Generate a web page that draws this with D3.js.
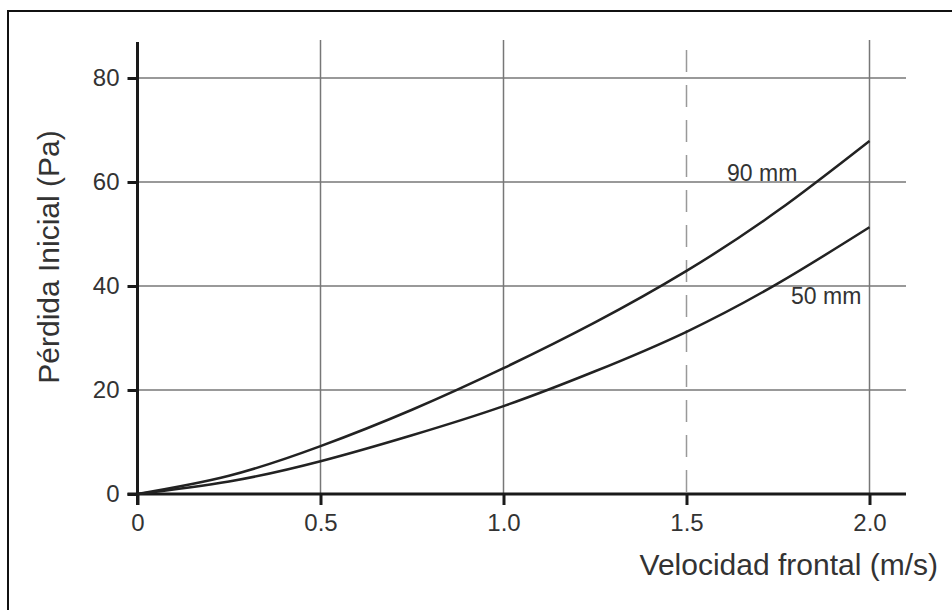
<!DOCTYPE html>
<html>
<head>
<meta charset="utf-8">
<script src="https://cdn.jsdelivr.net/npm/d3@7"></script>
<style>
  html, body { margin: 0; padding: 0; background: #fff; }
  svg { display: block; font-family: "Liberation Sans", Arial, sans-serif; }
</style>
</head>
<body>
<div id="chart"></div>
<script>
// velocidad frontal (m/s)
const velocidad = [0, 0.25, 0.5, 0.75, 1.0, 1.25, 1.5, 1.75, 2.0];
// pérdida inicial (Pa) por espesor
const perdida90 = [0, 3.5, 9.2, 16.2, 24.2, 33.0, 42.9, 54.5, 67.9];
const perdida50 = [0, 2.4, 6.3, 11.3, 16.9, 23.6, 31.2, 40.5, 51.3];
const xTicks = [0, 0.5, 1.0, 1.5, 2.0];
const xTickLabels = ["0", "0.5", "1.0", "1.5", "2.0"];
const yTicks = [0, 20, 40, 60, 80];
const series = [
  { name: "90 mm", values: perdida90 },
  { name: "50 mm", values: perdida50 }
];

const width = 952, height = 610;
const svg = d3.select("#chart").append("svg")
  .attr("width", width)
  .attr("height", height);

// marco
svg.append("rect")
  .attr("x", 8).attr("y", 11)
  .attr("width", 980).attr("height", 700)
  .attr("fill", "none")
  .attr("stroke", "#111")
  .attr("stroke-width", 2);

const x = d3.scaleLinear().domain([0, 2]).range([137.5, 869.5]);
const y = d3.scaleLinear().domain([0, 80]).range([494, 78]);
const xEnd = 906, yTop = 40;

// rejilla horizontal
svg.append("g").selectAll("line")
  .data(yTicks.filter(d => d > 0))
  .join("line")
  .attr("x1", x(0)).attr("x2", xEnd)
  .attr("y1", d => y(d)).attr("y2", d => y(d))
  .attr("stroke", "#777").attr("stroke-width", 1.5);

// rejilla vertical
svg.append("g").selectAll("line")
  .data(xTicks.filter(d => d > 0))
  .join("line")
  .attr("x1", d => x(d)).attr("x2", d => x(d))
  .attr("y1", d => d === 1.5 ? 50 : yTop).attr("y2", y(0))
  .attr("stroke", d => d === 1.5 ? "#999" : "#777")
  .attr("stroke-width", 1.5)
  .attr("stroke-dasharray", d => d === 1.5 ? "22,13" : null);

// ejes
const xAxis = d3.axisBottom(x)
  .tickValues(xTicks)
  .tickFormat((d, i) => xTickLabels[i])
  .tickSize(11)
  .tickPadding(9);
const gx = svg.append("g")
  .attr("transform", `translate(0,${y(0)})`)
  .call(xAxis);
gx.select(".domain").remove();
gx.append("line")
  .attr("x1", x(0) - 10).attr("x2", xEnd)
  .attr("stroke", "#1a1a1a").attr("stroke-width", 3);

const yAxis = d3.axisLeft(y)
  .tickValues(yTicks)
  .tickSize(10)
  .tickPadding(8);
const gy = svg.append("g")
  .attr("transform", `translate(${x(0)},0)`)
  .call(yAxis);
gy.select(".domain").remove();
gy.append("line")
  .attr("y1", 42).attr("y2", y(0) + 11)
  .attr("stroke", "#1a1a1a").attr("stroke-width", 3);

svg.selectAll(".tick line")
  .attr("stroke", "#1a1a1a").attr("stroke-width", 3);
svg.selectAll(".tick text")
  .attr("fill", "#333")
  .style("font-size", "24px")
  .style("font-family", "'Liberation Sans', Arial, sans-serif");

// curvas
const line = d3.line()
  .x((d, i) => x(velocidad[i]))
  .y(d => y(d))
  .curve(d3.curveNatural);

svg.append("g").selectAll("path")
  .data(series)
  .join("path")
  .attr("d", d => line(d.values))
  .attr("fill", "none")
  .attr("stroke", "#222")
  .attr("stroke-width", 2.5);

// etiquetas de las curvas
svg.append("text")
  .attr("x", 727).attr("y", 181)
  .attr("fill", "#333").style("font-size", "23px")
  .text(series[0].name);
svg.append("text")
  .attr("x", 791).attr("y", 304)
  .attr("fill", "#333").style("font-size", "23px")
  .text(series[1].name);

// títulos de ejes
svg.append("text")
  .attr("x", 938).attr("y", 575)
  .attr("text-anchor", "end")
  .attr("fill", "#333").style("font-size", "30px")
  .text("Velocidad frontal (m/s)");

svg.append("text")
  .attr("transform", "translate(59,257) rotate(-90)")
  .attr("text-anchor", "middle")
  .attr("fill", "#333").style("font-size", "30px")
  .text("Pérdida Inicial (Pa)");
</script>
</body>
</html>
